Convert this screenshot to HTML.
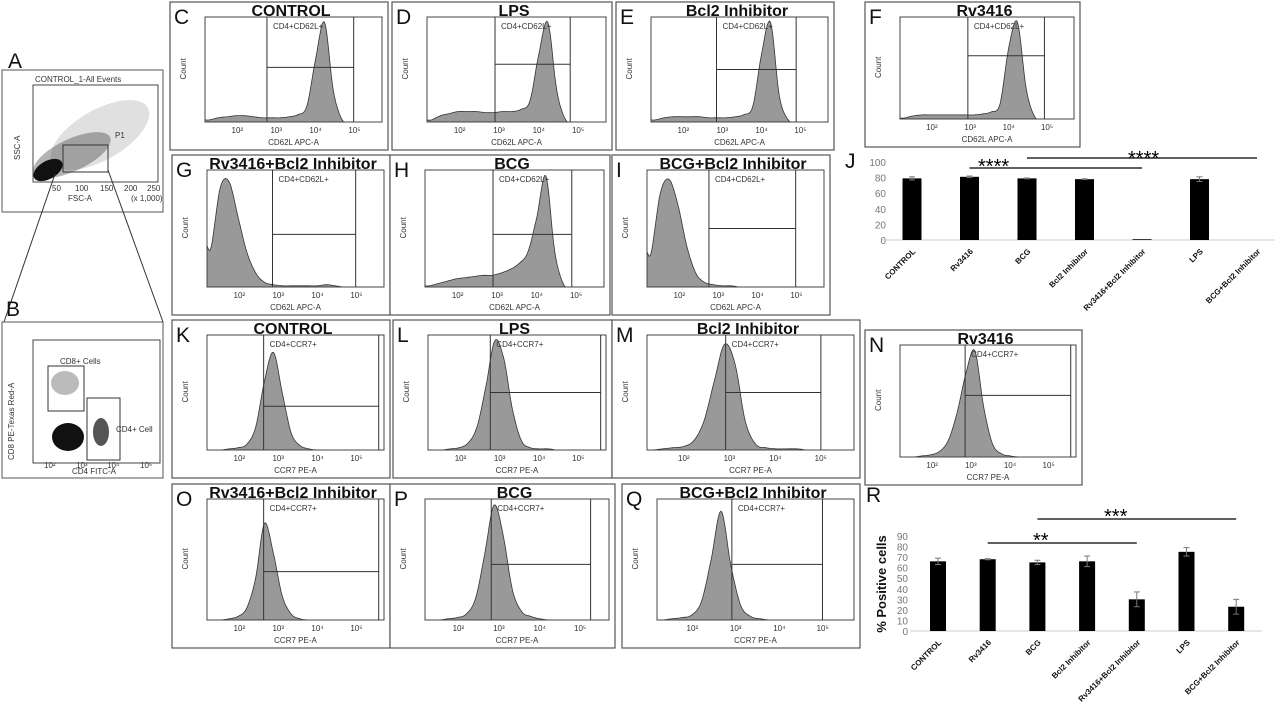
<!DOCTYPE html>
<html><head><meta charset="utf-8"><style>
body{margin:0;background:#fff;}
svg{display:block;font-family:"Liberation Sans",sans-serif;}
.lab{font-size:21px;fill:#111;}
.ttl{font-size:16px;font-weight:bold;fill:#111;}
.sm{font-size:8px;fill:#333;}
.tk{font-size:10px;fill:#777;}
.cat{font-size:8px;font-weight:bold;fill:#111;}
</style></head><body>
<svg id="fig" width="1280" height="711" viewBox="0 0 1280 711">
<g>
<text class="lab" x="8" y="68">A</text>
<rect x="2" y="70" width="161" height="142" fill="#fff" stroke="#555"/>
<rect x="33" y="85" width="125" height="97" fill="none" stroke="#444"/>
<text class="sm" x="35" y="82">CONTROL_1-All Events</text>
<ellipse cx="100" cy="135" rx="55" ry="25" fill="#999" opacity="0.3" transform="rotate(-30 100 135)"/>
<ellipse cx="72" cy="155" rx="42" ry="16" fill="#444" opacity="0.4" transform="rotate(-25 72 155)"/>
<ellipse cx="48" cy="170" rx="16" ry="9" fill="#111" transform="rotate(-30 48 170)"/>
<rect x="63" y="145" width="45" height="27" fill="none" stroke="#333"/>
<text class="sm" x="115" y="138">P1</text>
<text class="sm" x="68" y="201">FSC-A</text>
<text class="sm" x="20" y="160" transform="rotate(-90 20 160)">SSC-A</text>
<text class="sm" x="52" y="191">50</text><text class="sm" x="75" y="191">100</text><text class="sm" x="100" y="191">150</text><text class="sm" x="124" y="191">200</text><text class="sm" x="147" y="191">250</text>
<text class="sm" x="131" y="201">(x 1,000)</text>
</g>
<line x1="55" y1="174" x2="4" y2="322" stroke="#333"/>
<line x1="108" y1="170" x2="163" y2="322" stroke="#333"/>
<g>
<text class="lab" x="6" y="316">B</text>
<rect x="2" y="322" width="161" height="156" fill="#fff" stroke="#555"/>
<rect x="33" y="340" width="127" height="123" fill="none" stroke="#444"/>
<ellipse cx="65" cy="383" rx="14" ry="12" fill="#bbb"/>
<ellipse cx="68" cy="437" rx="16" ry="14" fill="#111"/>
<ellipse cx="101" cy="432" rx="8" ry="14" fill="#555"/>
<rect x="48" y="366" width="36" height="45" fill="none" stroke="#333"/>
<rect x="87" y="398" width="33" height="62" fill="none" stroke="#333"/>
<text class="sm" x="60" y="364">CD8+ Cells</text>
<text class="sm" x="116" y="432">CD4+ Cell</text>
<text class="sm" x="72" y="474">CD4 FITC-A</text>
<text class="sm" x="14" y="460" transform="rotate(-90 14 460)">CD8 PE-Texas Red-A</text>
<text class="sm" x="44" y="468">10²</text><text class="sm" x="76" y="468">10³</text><text class="sm" x="107" y="468">10⁴</text><text class="sm" x="140" y="468">10⁵</text>
</g>
<g id="hists"></g>
<g id="barJ"></g>
<g id="barR"></g>
</svg>
<script>
const histControl62 = [0.02,0.04,0.05,0.06,0.06,0.05,0.04,0.04,0.04,0.05,0.07,0.15,0.6,0.95,0.3,0.02,0,0,0,0];
const histLps62 = [0.02,0.06,0.08,0.1,0.1,0.1,0.09,0.09,0.1,0.1,0.12,0.2,0.65,0.95,0.3,0.02,0,0,0,0];
const histBcl62 = [0.02,0.04,0.05,0.05,0.05,0.05,0.04,0.04,0.04,0.05,0.07,0.15,0.65,0.95,0.25,0.02,0,0,0,0];
const histRv62 = [0.01,0.03,0.04,0.04,0.04,0.04,0.04,0.04,0.04,0.05,0.07,0.15,0.7,0.95,0.3,0.02,0,0,0,0];
const histRvBcl62 = [0.35,0.85,0.9,0.6,0.3,0.12,0.04,0.02,0.01,0.01,0.01,0.01,0.01,0.02,0.01,0,0,0,0,0];
const histBcg62 = [0.01,0.03,0.05,0.07,0.08,0.09,0.1,0.1,0.12,0.15,0.2,0.3,0.6,0.95,0.3,0.02,0,0,0,0];
const histBcgBcl62 = [0.3,0.8,0.92,0.7,0.35,0.12,0.04,0.02,0.01,0.01,0,0,0,0,0,0,0,0,0,0];
const histControlR7 = [0,0,0.01,0.02,0.05,0.2,0.6,0.85,0.5,0.15,0.04,0.01,0,0,0,0,0,0,0,0];
const histLpsR7 = [0,0,0.01,0.02,0.06,0.2,0.55,0.95,0.8,0.35,0.08,0.02,0.01,0.01,0,0,0,0,0,0];
const histBclR7 = [0,0.01,0.02,0.03,0.08,0.25,0.6,0.92,0.75,0.25,0.05,0.02,0.01,0.01,0.01,0,0,0,0,0];
const histRvR7 = [0,0,0.01,0.02,0.05,0.15,0.4,0.75,0.95,0.45,0.12,0.03,0.01,0,0,0,0,0,0,0];
const histRvBclR7 = [0,0,0.01,0.03,0.1,0.35,0.8,0.55,0.2,0.05,0.01,0,0,0,0,0,0,0,0,0];
const histBcgR7 = [0,0,0.01,0.02,0.05,0.18,0.55,0.95,0.7,0.25,0.07,0.03,0.01,0,0,0,0,0,0,0];
const histBcgBclR7 = [0,0.01,0.02,0.04,0.15,0.5,0.9,0.45,0.12,0.03,0.01,0,0,0,0,0,0,0,0,0];

const panels = [
 {id:'c',L:'C',t:'CONTROL',g:'CD4+CD62L+',ax:'CD62L APC-A',x:170,y:2,w:218,h:148,h1:histControl62,v1:0.35,v2:0.84,hy:0.52},
 {id:'d',L:'D',t:'LPS',g:'CD4+CD62L+',ax:'CD62L APC-A',x:392,y:2,w:220,h:148,h1:histLps62,v1:0.38,v2:0.8,hy:0.55},
 {id:'e',L:'E',t:'Bcl2 Inhibitor',g:'CD4+CD62L+',ax:'CD62L APC-A',x:616,y:2,w:218,h:148,h1:histBcl62,v1:0.37,v2:0.82,hy:0.5},
 {id:'f',L:'F',t:'Rv3416',g:'CD4+CD62L+',ax:'CD62L APC-A',x:865,y:2,w:215,h:145,h1:histRv62,v1:0.39,v2:0.83,hy:0.62},
 {id:'g',L:'G',t:'Rv3416+Bcl2 Inhibitor',g:'CD4+CD62L+',ax:'CD62L APC-A',x:172,y:155,w:218,h:160,h1:histRvBcl62,v1:0.37,v2:0.84,hy:0.45},
 {id:'h',L:'H',t:'BCG',g:'CD4+CD62L+',ax:'CD62L APC-A',x:390,y:155,w:220,h:160,h1:histBcg62,v1:0.38,v2:0.82,hy:0.45},
 {id:'i',L:'I',t:'BCG+Bcl2 Inhibitor',g:'CD4+CD62L+',ax:'CD62L APC-A',x:612,y:155,w:218,h:160,h1:histBcgBcl62,v1:0.35,v2:0.84,hy:0.5},
 {id:'k',L:'K',t:'CONTROL',g:'CD4+CCR7+',ax:'CCR7 PE-A',x:172,y:320,w:218,h:158,h1:histControlR7,v1:0.32,v2:0.97,hy:0.38},
 {id:'l',L:'L',t:'LPS',g:'CD4+CCR7+',ax:'CCR7 PE-A',x:393,y:320,w:219,h:158,h1:histLpsR7,v1:0.35,v2:0.97,hy:0.5},
 {id:'m',L:'M',t:'Bcl2 Inhibitor',g:'CD4+CCR7+',ax:'CCR7 PE-A',x:612,y:320,w:248,h:158,h1:histBclR7,v1:0.38,v2:0.84,hy:0.5},
 {id:'n',L:'N',t:'Rv3416',g:'CD4+CCR7+',ax:'CCR7 PE-A',x:865,y:330,w:217,h:155,h1:histRvR7,v1:0.37,v2:0.97,hy:0.55},
 {id:'o',L:'O',t:'Rv3416+Bcl2 Inhibitor',g:'CD4+CCR7+',ax:'CCR7 PE-A',x:172,y:484,w:218,h:164,h1:histRvBclR7,v1:0.32,v2:0.97,hy:0.4},
 {id:'p',L:'P',t:'BCG',g:'CD4+CCR7+',ax:'CCR7 PE-A',x:390,y:484,w:225,h:164,h1:histBcgR7,v1:0.36,v2:0.9,hy:0.46},
 {id:'q',L:'Q',t:'BCG+Bcl2 Inhibitor',g:'CD4+CCR7+',ax:'CCR7 PE-A',x:622,y:484,w:238,h:164,h1:histBcgBclR7,v1:0.38,v2:0.84,hy:0.46}
];
const NS='http://www.w3.org/2000/svg';
function mk(tag,attrs,parent,txt){const e=document.createElementNS(NS,tag);for(const k in attrs)e.setAttribute(k,attrs[k]);if(txt!==undefined)e.textContent=txt;parent.appendChild(e);return e;}
const H=document.getElementById('hists');
panels.forEach(p=>{
 const g=mk('g',{},H);
 
 
 const fr=mk('rect',{x:p.x,y:p.y,width:p.w,height:p.h,fill:'#fff',stroke:'#555','stroke-width':1.2},g);
 
 
 const L=p.x+35,R=p.x+p.w-6,T=p.y+15,B=p.y+p.h-28;
 const xs=f=>L+f*(R-L), ys=f=>B-Math.max(0,f)*(B-T);
 const n=p.h1.length;
 const pts=[[L,p.h1[0]]];
 p.h1.forEach((v,i)=>pts.push([xs((i+0.5)/n),v]));
 pts.push([R,p.h1[n-1]]);
 let d='M'+L+','+B+' L'+L+','+ys(pts[0][1]).toFixed(1);
 for(let i=0;i<pts.length-1;i++){
  const p0=pts[Math.max(0,i-1)],p1=pts[i],p2=pts[i+1],p3=pts[Math.min(pts.length-1,i+2)];
  for(let s=1;s<=8;s++){
   const t=s/8,t2=t*t,t3=t2*t;
   const f=(a,b,c,dd)=>0.5*((2*b)+(-a+c)*t+(2*a-5*b+4*c-dd)*t2+(-a+3*b-3*c+dd)*t3);
   d+=' L'+f(p0[0],p1[0],p2[0],p3[0]).toFixed(1)+','+ys(f(p0[1],p1[1],p2[1],p3[1])).toFixed(1);
  }
 }
 d+=' L'+R+','+B+' Z';
 const hp=mk('path',{d:d,fill:'#999',stroke:'#333','stroke-width':0.8},g);
 
 
 mk('rect',{x:L,y:T,width:R-L,height:B-T,fill:'none',stroke:'#444'},g);
 mk('line',{x1:xs(p.v1),y1:T,x2:xs(p.v1),y2:B,stroke:'#333'},g);
 mk('line',{x1:xs(p.v2),y1:T,x2:xs(p.v2),y2:B,stroke:'#333'},g);
 const gl=mk('line',{x1:xs(p.v1),y1:ys(p.hy),x2:xs(p.v2),y2:ys(p.hy),stroke:'#333'},g);
 
 
 mk('text',{class:'sm',x:xs(p.v1)+6,y:T+12},g,p.g);
 ['10²','10³','10⁴','10⁵'].forEach((t,i)=>mk('text',{class:'sm',x:xs(0.15+i*0.22),y:B+11},g,t));
 const xa=mk('text',{class:'sm',x:(L+R)/2,y:B+23,'text-anchor':'middle'},g,p.ax);
 
 
 mk('text',{class:'sm',x:p.x+16,y:(T+B)/2+10,transform:'rotate(-90 '+(p.x+16)+' '+((T+B)/2+10)+')'},g,'Count');
 const lb=mk('text',{class:'lab',x:p.x+4,y:p.y+22},g,p.L);
 
 
 const tt=mk('text',{class:'ttl',x:p.x+p.w/2+12,y:p.y+14,'text-anchor':'middle'},g,p.t);
 
 
});

const categories=['CONTROL','Rv3416','BCG','Bcl2 Inhibitor','Rv3416+Bcl2 Inhibitor','LPS','BCG+Bcl2 Inhibitor'];
const valuesJ=[79,81,79,78,1,78,0];
const errorsJ=[2,1,0.5,0.5,0,3,0];
const ticksJ=[0,20,40,60,80,100];
const valuesR=[66,68,65,66,30,75,23];
const errorsR=[3,0.5,2,5,7,4,7];
const ticksR=[0,10,20,30,40,50,60,70,80,90];

function bars(gid,cfg,vals,errs,ticks,sig){
 const G=document.getElementById(gid);
 const y=v=>cfg.y0-v*(cfg.y0-cfg.yTop)/cfg.max;
 const x=i=>cfg.x0+i*cfg.step;
 const lb=mk('text',{class:'lab',x:cfg.lx,y:cfg.ly},G,cfg.label);
 
 
 ticks.forEach(t=>mk('text',{class:'tk',x:cfg.tx,y:y(t)+4,'text-anchor':'end'},G,t));
 mk('line',{x1:cfg.axL,y1:cfg.y0,x2:cfg.axR,y2:cfg.y0,stroke:'#ccc'},G);
 if(cfg.showY){
  const yt=mk('text',{x:cfg.ylx,y:cfg.yly,'font-size':13,'font-weight':'bold',fill:'#111','text-anchor':'middle',transform:'rotate(-90 '+cfg.ylx+' '+cfg.yly+')'},G,'% Positive cells');
  
  
 }
 vals.forEach((v,i)=>{
  const b=mk('rect',{x:x(i)-cfg.bw/2,y:y(v),width:cfg.bw,height:Math.max(0,cfg.y0-y(v)),fill:'#000'},G);
  
  
  if(errs[i]>0){
   mk('line',{x1:x(i),y1:y(v+errs[i]),x2:x(i),y2:y(v-errs[i]),stroke:'#777'},G);
   mk('line',{x1:x(i)-3,y1:y(v+errs[i]),x2:x(i)+3,y2:y(v+errs[i]),stroke:'#777'},G);
   mk('line',{x1:x(i)-3,y1:y(v-errs[i]),x2:x(i)+3,y2:y(v-errs[i]),stroke:'#777'},G);
  }
  const tx=x(i)+4, ty=cfg.y0+12;
  const c=mk('text',{class:'cat',x:tx,y:ty,'text-anchor':'end',transform:'rotate(-45 '+tx+' '+ty+')'},G,categories[i]);
  
  
 });
 sig.forEach(s=>{
  const l=mk('line',{x1:x(s.a),y1:s.y,x2:x(s.b),y2:s.y,stroke:'#000','stroke-width':1.2},G);
  
  
  const t=mk('text',{x:s.sx,y:s.y+s.dy,'font-size':20,fill:'#000'},G,s.stars);
  
  
 });
}
bars('barJ',{label:'J',lx:845,ly:168,x0:912,step:57.5,bw:19,y0:240,yTop:162,max:100,tx:886,axL:882,axR:1275,showY:false},
 valuesJ,errorsJ,ticksJ,[{a:1,b:4,y:168,sx:978,dy:5,stars:'****'},{a:2,b:6,y:158,sx:1128,dy:7,stars:'****'}]);
bars('barR',{label:'R',lx:866,ly:502,x0:938,step:49.7,bw:16,y0:631,yTop:536,max:90,tx:908,axL:910,axR:1262,ylx:886,yly:584,showY:true},
 valuesR,errorsR,ticksR,[{a:1,b:4,y:543,sx:1033,dy:4,stars:'**'},{a:2,b:6,y:519,sx:1104,dy:4,stars:'***'}]);
</script>
</body></html>
